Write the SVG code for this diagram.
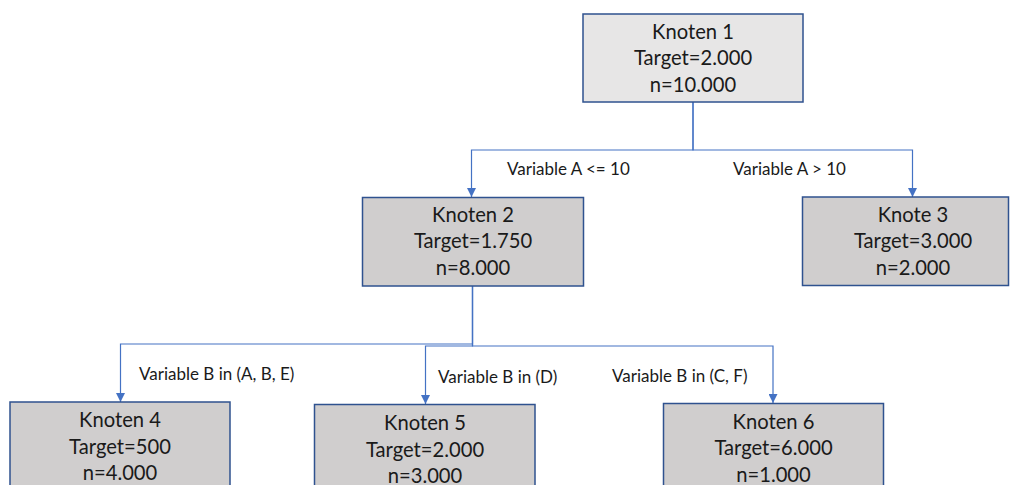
<svg xmlns="http://www.w3.org/2000/svg" width="1012" height="485" viewBox="0 0 1012 485">
  <style>
    .box { stroke: #2F528F; stroke-width: 1.5; }
    .root { fill: #E7E6E6; }
    .leaf { fill: #D0CECE; }
    .t { font-family: "Lato", "Liberation Sans", sans-serif; font-size: 20.2px; fill: #1a1a1a; text-anchor: middle; }
    .lbl { font-family: "Lato", "Liberation Sans", sans-serif; font-size: 17px; fill: #1a1a1a; }
    .edge { fill: none; stroke: #4472C4; stroke-width: 1.2; marker-end: url(#arrow); }
  </style>
  <defs>
    <marker id="arrow" viewBox="0 0 10 10" refX="10" refY="5" markerUnits="userSpaceOnUse" markerWidth="9" markerHeight="9" orient="auto">
      <path d="M0,0 L10,5 L0,10 z" fill="#4472C4"/>
    </marker>
  </defs>
  <rect width="1012" height="485" fill="#ffffff"/>

  <g id="connectors">
    <path class="edge" d="M693,102 V150 H471.5 V197"/>
    <path class="edge" d="M693,102 V150 H912.5 V197"/>
    <path class="edge" d="M472.5,286 V344 H120.5 V402"/>
    <path class="edge" d="M472.5,286 V346 H425.5 V404"/>
    <path class="edge" d="M472.5,286 V346 H773 V403"/>
    <text class="lbl" x="507" y="175">Variable A &lt;= 10</text>
    <text class="lbl" x="733" y="175">Variable A &gt; 10</text>
    <text class="lbl" x="139" y="380">Variable B in (A, B, E)</text>
    <text class="lbl" x="438" y="383">Variable B in (D)</text>
    <text class="lbl" x="612" y="382">Variable B in (C, F)</text>
  </g>

  <g id="node1">
    <rect class="box root" x="583" y="14" width="220" height="88"/>
    <text class="t" x="693" y="38.5">Knoten 1</text>
    <text class="t" x="693" y="65">Target=2.000</text>
    <text class="t" x="693" y="91.5">n=10.000</text>
  </g>

  <g id="node2">
    <rect class="box leaf" x="362.5" y="197.5" width="221" height="88.5"/>
    <text class="t" x="473" y="221.5">Knoten 2</text>
    <text class="t" x="473" y="248">Target=1.750</text>
    <text class="t" x="473" y="275">n=8.000</text>
  </g>

  <g id="node3">
    <rect class="box leaf" x="802.5" y="197" width="206" height="88.5"/>
    <text class="t" x="913" y="221.5">Knote 3</text>
    <text class="t" x="913" y="248">Target=3.000</text>
    <text class="t" x="913" y="275">n=2.000</text>
  </g>

  <g id="node4">
    <rect class="box leaf" x="10" y="402" width="220" height="95"/>
    <text class="t" x="120" y="426.5">Knoten 4</text>
    <text class="t" x="120" y="454">Target=500</text>
    <text class="t" x="120" y="480">n=4.000</text>
  </g>

  <g id="node5">
    <rect class="box leaf" x="314.5" y="404.5" width="220.5" height="95"/>
    <text class="t" x="425" y="430">Knoten 5</text>
    <text class="t" x="425" y="456.5">Target=2.000</text>
    <text class="t" x="425" y="483">n=3.000</text>
  </g>

  <g id="node6">
    <rect class="box leaf" x="663.5" y="403.5" width="220" height="95"/>
    <text class="t" x="773.5" y="428.5">Knoten 6</text>
    <text class="t" x="773.5" y="455">Target=6.000</text>
    <text class="t" x="773.5" y="481.5">n=1.000</text>
  </g>
</svg>
